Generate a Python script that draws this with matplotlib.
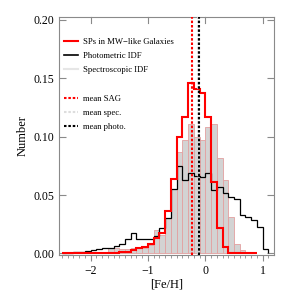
import numpy as np
import matplotlib
matplotlib.use("Agg")
import matplotlib.pyplot as plt
from matplotlib.lines import Line2D

plt.rcParams['font.family'] = ['Liberation Serif', 'DejaVu Serif']

# bins of 0.1 dex in [Fe/H]
BIN = 0.1

# SAG stellar populations in MW-like galaxies, bins from -2.5 to 0.9
sag_start = -2.5
sag_vals = [0.0, 0.0, 0.0002, 0.0002, 0.0003, 0.0004, 0.0004, 0.0005, 0.0006, 0.0007,
            0.0009, 0.0013, 0.0025, 0.0045, 0.0058, 0.008, 0.013, 0.0173, 0.0365, 0.0634,
            0.100, 0.1165, 0.1456, 0.141, 0.137, 0.1166, 0.0613, 0.0216, 0.0056, 0.0004,
            0.0003, 0.0002, 0.0002, 0.0001]

# photometric IDF, bins from -2.5 to 1.1
phot_start = -2.5
phot_vals = [0.0002, 0.0005, 0.001, 0.0015, 0.002, 0.003, 0.0036, 0.0045, 0.005, 0.006,
             0.008, 0.012, 0.0172, 0.012, 0.012, 0.0125, 0.015, 0.022, 0.030, 0.055,
             0.075, 0.063, 0.069, 0.066, 0.0653, 0.0687, 0.0544, 0.0567, 0.052, 0.0487,
             0.0464, 0.033, 0.0315, 0.0287, 0.0224, 0.0036]

# spectroscopic IDF, bins from -1.7 to 0.7
spec_start = -1.7
spec_vals = [0.005, 0.005, 0.004, 0.004, 0.005, 0.005, 0.005, 0.0075, 0.020, 0.016,
             0.030, 0.055, 0.087, 0.097, 0.111, 0.100, 0.097, 0.108, 0.111, 0.082,
             0.063, 0.031, 0.008, 0.0025]

mean_sag = -0.24
mean_spec = -0.12
mean_phot = -0.115


def edges_for(start, vals):
    return start + BIN * np.arange(len(vals) + 1)


fig = plt.figure(figsize=(2.91, 2.91), dpi=100)
ax = fig.add_axes([0.203, 0.124, 0.739, 0.818])

e = edges_for(spec_start, spec_vals)
ax.bar(e[:-1], spec_vals, width=BIN, align='edge', color='#d3d3d3',
       edgecolor='#e3a0a0', linewidth=0.6, zorder=1)

ax.stairs(phot_vals, edges_for(phot_start, phot_vals), color='black', lw=0.9, zorder=2)
ax.stairs(sag_vals, edges_for(sag_start, sag_vals), color='#ff0000', lw=1.5, zorder=3)

ax.axvline(mean_spec, color='#dddddd', lw=1.5, dashes=(1.2, 0.9), zorder=4)
ax.axvline(mean_phot, color='black', lw=1.5, dashes=(1.2, 0.9), zorder=5)
ax.axvline(mean_sag, color='#ff0000', lw=1.5, dashes=(1.2, 0.9), zorder=5)

ax.set_xlim(-2.55, 1.2)
ax.set_ylim(-0.0013, 0.2026)
ax.set_xticks([-2, -1, 0, 1])
ax.set_xticks(np.arange(-2.5, 1.2, 0.1), minor=True)
ax.set_yticks([0.0, 0.05, 0.10, 0.15, 0.20])
ax.yaxis.set_major_formatter(matplotlib.ticker.FormatStrFormatter('%.2f'))

for s in ax.spines.values():
    s.set_color('#8a8a8a')
    s.set_linewidth(0.8)
ax.tick_params(axis='y', which='both', direction='in', left=True, right=True,
               length=5, color='#8a8a8a', labelsize=8.5)
ax.tick_params(axis='x', which='major', direction='out', length=4, color='#8a8a8a',
               labelsize=8.5, top=False)
ax.tick_params(axis='x', which='minor', direction='out', length=2.5, color='#8a8a8a',
               top=False)
for xt in [-2, -1, 0, 1]:
    ax.plot([xt, xt], [0.2026, 0.197], color='#8a8a8a', lw=0.8, zorder=0,
            clip_on=False)

ax.set_xlabel('[Fe/H]', fontsize=9, labelpad=1)
ax.set_ylabel('Number', fontsize=9, labelpad=3)

handles = [
    Line2D([], [], color='#ff0000', lw=1.5),
    Line2D([], [], color='black', lw=1.2),
    Line2D([], [], color='#e6e6e6', lw=1.5),
    Line2D([], [], color='none'),
    Line2D([], [], color='#ff0000', lw=1.5, dashes=(1.2, 0.9)),
    Line2D([], [], color='#dddddd', lw=1.5, dashes=(1.2, 0.9)),
    Line2D([], [], color='black', lw=1.5, dashes=(1.2, 0.9)),
]
labels = ['SPs in MW\u2212like Galaxies', 'Photometric IDF', 'Spectroscopic IDF', ' ',
          'mean SAG', 'mean spec.', 'mean photo.']
ax.legend(handles, labels, loc='upper left', bbox_to_anchor=(0.0, 0.933), frameon=False,
          fontsize=6.2, handlelength=1.6, handletextpad=0.6, labelspacing=0.72,
          borderaxespad=0.2)

fig.savefig('out.png', dpi=100)
